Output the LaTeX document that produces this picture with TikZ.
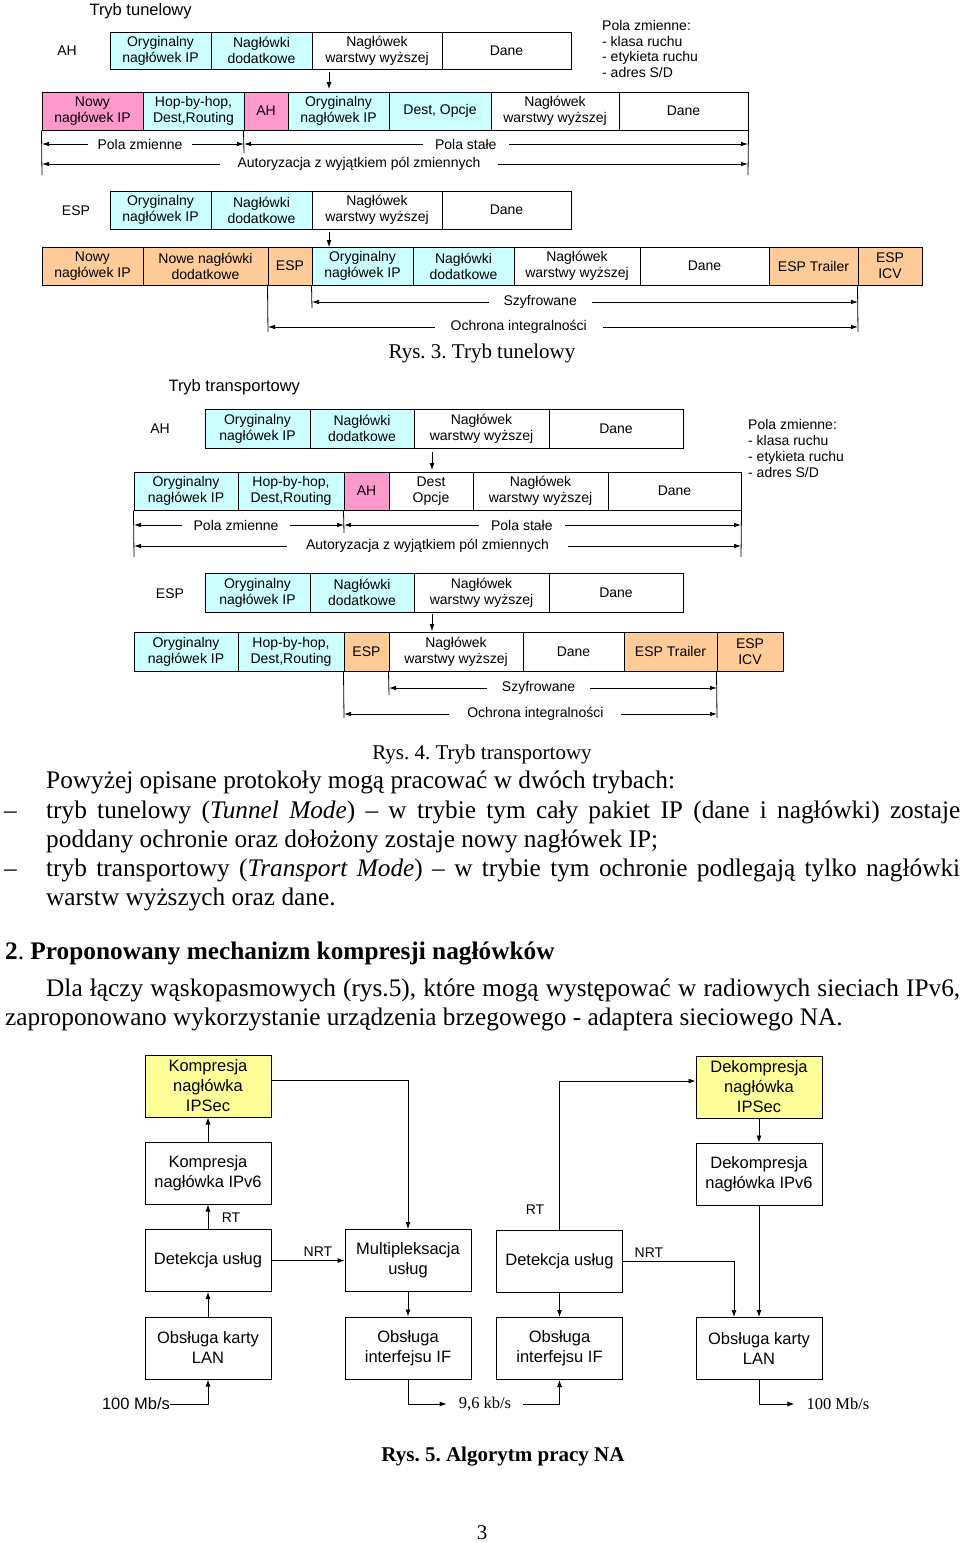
\documentclass[tikz,border=0pt]{standalone}
\usepackage{fontspec}
\setmainfont{Liberation Serif}
\setsansfont{Liberation Sans}
\usetikzlibrary{arrows.meta}
\frenchspacing

\definecolor{cyjan}{RGB}{204,255,255}
\definecolor{roz}{RGB}{255,153,204}
\definecolor{pomar}{RGB}{255,204,153}
\definecolor{zolty}{RGB}{255,255,153}

\newcommand{\pkt}{\sffamily\fontsize{14}{16}\selectfont}
\newcommand{\blk}{\sffamily\fontsize{16.5}{20}\selectfont}
\newcommand{\tekst}{\rmfamily\fontsize{25.3}{29}\selectfont}
\newcommand{\podpis}{\rmfamily\fontsize{21}{25}\selectfont}

\tikzset{
  pole/.style={draw, line width=1pt, inner sep=0pt, align=center, font=\pkt},
  zakres/.style={{Latex[length=7pt,width=4.5pt]}-{Latex[length=7pt,width=4.5pt]}, line width=0.8pt},
  opis/.style={fill=white, inner xsep=12pt, inner ysep=1pt, font=\pkt},
  blok/.style={draw, line width=1pt, minimum width=126pt, minimum height=62pt, align=center, font=\blk},
  strz/.style={-{Latex[length=7pt,width=5pt]}, line width=0.8pt},
}

\begin{document}
\begin{tikzpicture}[x=1pt, y=-1pt]
  \useasboundingbox (0,0) rectangle (960,1543);

  % Tryb tunelowy, AH
  \node[anchor=base west, font=\blk] (tyt1) at (86,15) {Tryb tunelowy};
  \node[font=\pkt] (ah1) at (67,51) {AH};
  \begin{scope}[every node/.style={pole, minimum height=37pt}]
    \node[fill=cyjan, minimum width=101pt] (ta1) at (160.5,50.5) {Oryginalny\\nagłówek IP};
    \node[fill=cyjan, minimum width=101pt] (ta2) at (261.5,50.5) {Nagłówki\\dodatkowe};
    \node[minimum width=130pt] (ta3) at (377,50.5) {Nagłówek\\warstwy wyższej};
    \node[minimum width=129pt] (ta4) at (506.5,50.5) {Dane};
  \end{scope}
  \node[anchor=north west, align=left, inner sep=0pt, font=\sffamily\fontsize{14}{15.7}\selectfont] (zm1) at (602,20) {Pola zmienne:\\- klasa ruchu\\- etykieta ruchu\\- adres S/D};
  \coordinate (tk1) at (329,72);
  \coordinate (tk2) at (329,89);
  \draw[strz] (tk1) -- (tk2);
  \begin{scope}[every node/.style={pole, minimum height=38pt}]
    \node[fill=roz, minimum width=101pt] (tb1) at (92.5,111) {Nowy\\nagłówek IP};
    \node[fill=cyjan, minimum width=101pt] (tb2) at (193.5,111) {Hop-by-hop,\\Dest,Routing};
    \node[fill=roz, minimum width=44pt] (tb3) at (266,111) {AH};
    \node[fill=cyjan, minimum width=101pt] (tb4) at (338.5,111) {Oryginalny\\nagłówek IP};
    \node[fill=cyjan, minimum width=102pt] (tb5) at (440,111) {Dest, Opcje};
    \node[minimum width=128pt] (tb6) at (555,111) {Nagłówek\\warstwy wyższej};
    \node[minimum width=129pt] (tb7) at (683.5,111) {Dane};
  \end{scope}
  \coordinate (t-l) at (42,175);
  \coordinate (t-m) at (244,153);
  \coordinate (t-r) at (748,175);
  \coordinate (t-y1) at (0,144);
  \coordinate (t-y2) at (0,164);
  \draw[line width=0.8pt] (tb1.south west) -- (t-l);
  \draw[line width=0.8pt] (tb3.south west) -- (t-m);
  \draw[line width=0.8pt] (tb7.south east) -- (t-r);
  \draw[zakres] (t-l |- t-y1) -- node[opis, inner xsep=10pt, pos=0.485] {Pola zmienne} (t-m |- t-y1);
  \draw[zakres] (t-m |- t-y1) -- node[opis, pos=0.44] {Pola stałe} (t-r |- t-y1);
  \draw[zakres] (t-l |- t-y2) -- node[opis, inner xsep=18pt, pos=0.449] {Autoryzacja z wyjątkiem pól zmiennych} (t-r |- t-y2);

  % Tryb tunelowy, ESP
  \node[font=\pkt] (esp1) at (76,211) {ESP};
  \begin{scope}[every node/.style={pole, minimum height=38pt}]
    \node[fill=cyjan, minimum width=101pt] (tc1) at (160.5,210) {Oryginalny\\nagłówek IP};
    \node[fill=cyjan, minimum width=101pt] (tc2) at (261.5,210) {Nagłówki\\dodatkowe};
    \node[minimum width=130pt] (tc3) at (377,210) {Nagłówek\\warstwy wyższej};
    \node[minimum width=129pt] (tc4) at (506.5,210) {Dane};
  \end{scope}
  \coordinate (tk3) at (329,232);
  \coordinate (tk4) at (329,247);
  \draw[strz] (tk3) -- (tk4);
  \begin{scope}[every node/.style={pole, minimum height=38pt}]
    \node[fill=pomar, minimum width=101pt] (td1) at (92.5,266) {Nowy\\nagłówek IP};
    \node[fill=pomar, minimum width=125pt] (td2) at (205.5,266) {Nowe nagłówki\\dodatkowe};
    \node[fill=pomar, minimum width=44pt] (td3) at (290,266) {ESP};
    \node[fill=cyjan, minimum width=101pt] (td4) at (362.5,266) {Oryginalny\\nagłówek IP};
    \node[fill=cyjan, minimum width=101pt] (td5) at (463.5,266) {Nagłówki\\dodatkowe};
    \node[minimum width=126pt] (td6) at (577,266) {Nagłówek\\warstwy wyższej};
    \node[minimum width=129pt] (td7) at (704.5,266) {Dane};
    \node[fill=pomar, minimum width=89pt] (td8) at (813.5,266) {ESP Trailer};
    \node[fill=pomar, minimum width=64pt] (td9) at (890,266) {ESP\\ICV};
  \end{scope}
  \coordinate (e-l) at (268,332);
  \coordinate (e-m) at (312,308);
  \coordinate (e-r) at (858,332);
  \coordinate (e-y1) at (0,302);
  \coordinate (e-y2) at (0,327);
  \draw[line width=0.8pt] (td3.south west) -- (e-l);
  \draw[line width=0.8pt] (td4.south west) -- (e-m);
  \draw[line width=0.8pt] (td9.south west) -- (e-r);
  \draw[zakres] (e-m |- e-y1) -- node[opis, inner xsep=15pt, pos=0.418] {Szyfrowane} (e-r |- e-y1);
  \draw[zakres] (e-l |- e-y2) -- node[opis, inner xsep=16pt, pos=0.425] {Ochrona integralności} (e-r |- e-y2);
  \node[anchor=base, font=\podpis] (rys3) at (482,358) {Rys. 3. Tryb tunelowy};

  % Tryb transportowy, AH
  \node[anchor=base west, font=\blk] (tyt2) at (165,391) {Tryb transportowy};
  \node[font=\pkt] (ah2) at (160,429) {AH};
  \begin{scope}[every node/.style={pole, minimum height=39pt}]
    \node[fill=cyjan, minimum width=105pt] (pa1) at (257.5,428.5) {Oryginalny\\nagłówek IP};
    \node[fill=cyjan, minimum width=104pt] (pa2) at (362,428.5) {Nagłówki\\dodatkowe};
    \node[minimum width=135pt] (pa3) at (481.5,428.5) {Nagłówek\\warstwy wyższej};
    \node[minimum width=134pt] (pa4) at (616,428.5) {Dane};
  \end{scope}
  \node[anchor=north west, align=left, inner sep=0pt, font=\sffamily\fontsize{14}{16}\selectfont] (zm2) at (748,419) {Pola zmienne:\\- klasa ruchu\\- etykieta ruchu\\- adres S/D};
  \coordinate (pk1) at (432,452);
  \coordinate (pk2) at (432,470);
  \draw[strz] (pk1) -- (pk2);
  \begin{scope}[every node/.style={pole, minimum height=38pt}]
    \node[fill=cyjan, minimum width=104pt] (pb1) at (186,491) {Oryginalny\\nagłówek IP};
    \node[fill=cyjan, minimum width=106pt] (pb2) at (291,491) {Hop-by-hop,\\Dest,Routing};
    \node[fill=roz, minimum width=45pt] (pb3) at (366.5,491) {AH};
    \node[minimum width=84pt] (pb4) at (431,491) {Dest\\Opcje};
    \node[minimum width=135pt] (pb5) at (540.5,491) {Nagłówek\\warstwy wyższej};
    \node[minimum width=133pt] (pb6) at (674.5,491) {Dane};
  \end{scope}
  \coordinate (p-l) at (134,557);
  \coordinate (p-m) at (344,533);
  \coordinate (p-r) at (741,557);
  \coordinate (p-y1) at (0,525);
  \coordinate (p-y2) at (0,546);
  \draw[line width=0.8pt] (pb1.south west) -- (p-l);
  \draw[line width=0.8pt] (pb3.south west) -- (p-m);
  \draw[line width=0.8pt] (pb6.south east) -- (p-r);
  \draw[zakres] (p-l |- p-y1) -- node[opis, pos=0.486] {Pola zmienne} (p-m |- p-y1);
  \draw[zakres] (p-m |- p-y1) -- node[opis, pos=0.448] {Pola stałe} (p-r |- p-y1);
  \draw[zakres] (p-l |- p-y2) -- node[opis, inner xsep=19pt, pos=0.4835] {Autoryzacja z wyjątkiem pól zmiennych} (p-r |- p-y2);

  % Tryb transportowy, ESP
  \node[font=\pkt] (esp2) at (170,594) {ESP};
  \begin{scope}[every node/.style={pole, minimum height=39pt}]
    \node[fill=cyjan, minimum width=105pt] (pc1) at (257.5,592.5) {Oryginalny\\nagłówek IP};
    \node[fill=cyjan, minimum width=104pt] (pc2) at (362,592.5) {Nagłówki\\dodatkowe};
    \node[minimum width=135pt] (pc3) at (481.5,592.5) {Nagłówek\\warstwy wyższej};
    \node[minimum width=134pt] (pc4) at (616,592.5) {Dane};
  \end{scope}
  \coordinate (pk3) at (432,614);
  \coordinate (pk4) at (432,631);
  \draw[strz] (pk3) -- (pk4);
  \begin{scope}[every node/.style={pole, minimum height=39pt}]
    \node[fill=cyjan, minimum width=104pt] (pd1) at (186,651.5) {Oryginalny\\nagłówek IP};
    \node[fill=cyjan, minimum width=106pt] (pd2) at (291,651.5) {Hop-by-hop,\\Dest,Routing};
    \node[fill=pomar, minimum width=45pt] (pd3) at (366.5,651.5) {ESP};
    \node[minimum width=134pt] (pd4) at (456,651.5) {Nagłówek\\warstwy wyższej};
    \node[minimum width=101pt] (pd5) at (573.5,651.5) {Dane};
    \node[fill=pomar, minimum width=93pt] (pd6) at (670.5,651.5) {ESP Trailer};
    \node[fill=pomar, minimum width=66pt] (pd7) at (750,651.5) {ESP\\ICV};
  \end{scope}
  \coordinate (s-l) at (344,718);
  \coordinate (s-m) at (389,695);
  \coordinate (s-r) at (717,718);
  \coordinate (s-y1) at (0,688);
  \coordinate (s-y2) at (0,714);
  \draw[line width=0.8pt] (pd3.south west) -- (s-l);
  \draw[line width=0.8pt] (pd4.south west) -- (s-m);
  \draw[line width=0.8pt] (pd7.south west) -- (s-r);
  \draw[zakres] (s-m |- s-y1) -- node[opis, inner xsep=15pt, pos=0.456] {Szyfrowane} (s-r |- s-y1);
  \draw[zakres] (s-l |- s-y2) -- node[opis, inner xsep=18pt, pos=0.513] {Ochrona integralności} (s-r |- s-y2);
  \node[anchor=base, font=\podpis] (rys4) at (482,759) {Rys. 4. Tryb transportowy};

  % tekst
  \begin{scope}[every node/.style={anchor=base west, inner sep=0pt, font=\tekst}]
    \node (w1) at (46,788) {Powyżej opisane protokoły mogą pracować w dwóch trybach:};
    \node (m1) at (4,818) {–};
    \node (w2) at (46,818) {\makebox[914pt][s]{tryb tunelowy (\textit{Tunnel Mode}) – w trybie tym cały pakiet IP (dane i nagłówki) zostaje}};
    \node (w3) at (46,847) {poddany ochronie oraz dołożony zostaje nowy nagłówek IP;};
    \node (m2) at (4,876) {–};
    \node (w4) at (46,876) {\makebox[914pt][s]{tryb transportowy (\textit{Transport Mode}) – w trybie tym ochronie podlegają tylko nagłówki}};
    \node (w5) at (46,905) {warstw wyższych oraz dane.};
    \node (nag) at (5,959) {\textbf{2}. \textbf{Proponowany mechanizm kompresji nagłówków}};
    \node (w6) at (46,996) {\makebox[914pt][s]{Dla łączy wąskopasmowych (rys.5), które mogą występować w radiowych sieciach IPv6,}};
    \node (w7) at (5,1025) {zaproponowano wykorzystanie urządzenia brzegowego - adaptera sieciowego NA.};
  \end{scope}

  % Algorytm pracy NA
  \begin{scope}[every node/.style={blok}]
    \node[fill=zolty] (kip) at (208,1086) {Kompresja\\nagłówka\\IPSec};
    \node (kv6) at (208,1173) {Kompresja\\nagłówka IPv6};
    \node (det1) at (208,1260.5) {Detekcja usług};
    \node (lan1) at (208,1348) {Obsługa karty\\LAN};
    \node (mux) at (408,1260.5) {Multipleksacja\\usług};
    \node (if1) at (408,1348) {Obsługa\\interfejsu IF};
    \node[fill=zolty] (dip) at (759,1087) {Dekompresja\\nagłówka\\IPSec};
    \node (dv6) at (759,1174) {Dekompresja\\nagłówka IPv6};
    \node (det2) at (559.5,1261.5) {Detekcja usług};
    \node (if2) at (559.5,1348.5) {Obsługa\\interfejsu IF};
    \node (lan2) at (759,1348.5) {Obsługa karty\\LAN};
  \end{scope}
  \node[font=\blk, inner xsep=0pt] (mb1) at (136,1404) {100 Mb/s};
  \node[font=\rmfamily\fontsize{16.5}{20}\selectfont, inner xsep=12pt] (kb) at (485,1404) {9,6 kb/s};
  \node[font=\rmfamily\fontsize{16.5}{20}\selectfont, inner xsep=12pt] (mb2) at (838,1404) {100 Mb/s};
  \node[font=\pkt] (rt1) at (231,1218) {RT};
  \node[font=\pkt] (nrt1) at (318,1252) {NRT};
  \node[font=\pkt] (rt2) at (535,1210) {RT};
  \node[font=\pkt] (nrt2) at (649,1253) {NRT};

  \draw[strz] (lan1) -- (det1);
  \draw[strz] (det1) -- (kv6);
  \draw[strz] (kv6) -- (kip);
  \draw[strz] (det1) -- (mux);
  \draw[strz] ([yshift=6pt]kip.east) -| (mux.north);
  \draw[strz] (mux) -- (if1);
  \draw[strz] (mb1.east) -| (lan1.south);
  \draw[strz] (if1.south) |- (kb.west);
  \draw[strz] (kb.east) -| (if2.south);
  \draw[strz] (det2) -- (if2);
  \draw[strz] (det2.north) |- ([yshift=6pt]dip.west);
  \draw[strz] (dip) -- (dv6);
  \draw[strz] (dv6) -- (lan2);
  \draw[strz] (det2.east) -| ([xshift=-25pt]lan2.north);
  \draw[strz] (lan2.south) |- (mb2.west);

  \node[anchor=base, font=\rmfamily\bfseries\fontsize{21}{25}\selectfont] (rys5) at (503,1461) {Rys. 5. Algorytm pracy NA};
  \node[anchor=base, font=\rmfamily\fontsize{21}{25}\selectfont] (str) at (482,1539) {3};
\end{tikzpicture}
\end{document}
